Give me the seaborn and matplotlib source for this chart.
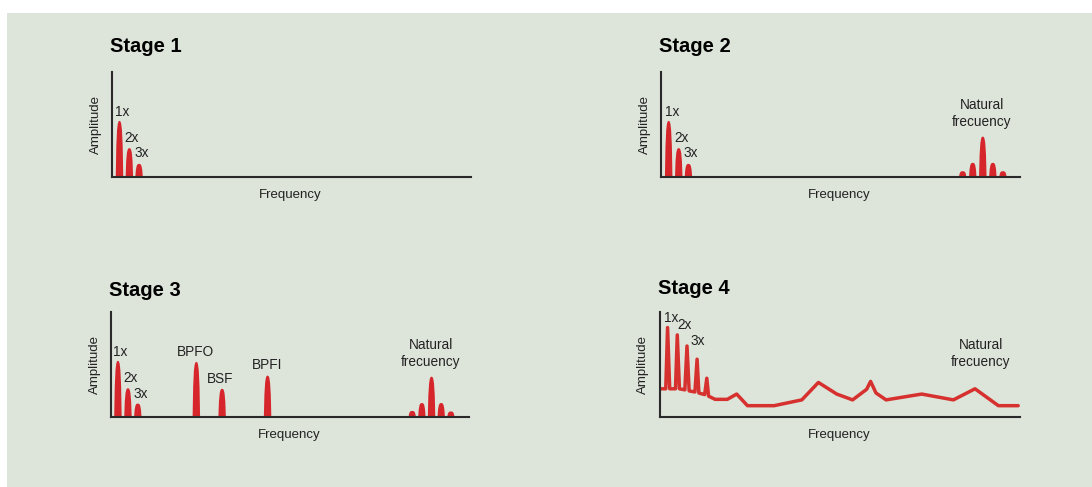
import numpy as np
import pandas as pd
import matplotlib.pyplot as plt
from matplotlib.patches import Rectangle
import seaborn as sns

# Posiciones (frecuencia, 0-100) y alturas (amplitud, 0-1) de los picos
s1_freq = [1.95, 4.7, 7.4]
s1_amp = [0.54, 0.28, 0.13]

s2_freq = [2.0, 4.8, 7.5, 83.9, 86.7, 89.5, 92.3, 95.1]
s2_amp = [0.54, 0.28, 0.13, 0.06, 0.14, 0.39, 0.14, 0.06]

s3_freq = [1.8, 4.6, 7.35, 23.7, 30.9, 43.6, 84.0, 86.7, 89.4, 92.1, 94.8]
s3_amp = [0.54, 0.28, 0.135, 0.53, 0.275, 0.40, 0.065, 0.14, 0.39, 0.14, 0.06]

# Stage 4: espectro continuo
s4_freq = [0.2, 1.6, 2.1, 2.7, 4.3, 4.8, 5.4, 6.9, 7.5, 8.1, 9.7, 10.3, 10.8,
           12.4, 13.0, 13.5, 15.3, 18.7, 21.3, 24.3, 31.7, 39.4, 44.0, 49.1,
           53.5, 57.4, 58.5, 60.0, 62.8, 72.7, 81.5, 87.5, 94.0, 99.5]
s4_amp = [0.27, 0.27, 0.85, 0.27, 0.27, 0.78, 0.27, 0.26, 0.675, 0.25, 0.24,
          0.55, 0.23, 0.215, 0.37, 0.20, 0.17, 0.17, 0.22, 0.11, 0.11, 0.165,
          0.33, 0.22, 0.165, 0.265, 0.34, 0.23, 0.165, 0.22, 0.165, 0.27,
          0.11, 0.11]

# Etiquetas: (texto, x, y) en coordenadas de datos
s1_labels = [("1x", 2.7, 0.62), ("2x", 5.5, 0.37), ("3x", 8.3, 0.23)]
s2_labels = [("1x", 3.0, 0.62), ("2x", 5.8, 0.37), ("3x", 8.4, 0.23),
             ("Natural", 89.3, 0.686), ("frecuency", 89.3, 0.524)]
s3_labels = [("1x", 2.7, 0.62), ("2x", 5.5, 0.37), ("3x", 8.3, 0.22),
             ("BPFO", 23.5, 0.62), ("BSF", 30.6, 0.36), ("BPFI", 43.7, 0.495),
             ("Natural", 89.3, 0.685), ("frecuency", 89.3, 0.52)]
s4_labels = [("1x", 3.0, 0.943), ("2x", 6.9, 0.875), ("3x", 10.4, 0.72),
             ("Natural", 89.1, 0.686), ("frecuency", 89.1, 0.52)]

sns.set_style("white")
plt.rcParams['font.family'] = ['Liberation Sans', 'DejaVu Sans']

rojo = '#d6252b'
texto = '#222222'
fondo = '#dde4da'

W, H = 1092, 487
fig = plt.figure(figsize=(W / 100, H / 100), dpi=100, facecolor='white')
fig.patches.append(Rectangle((7 / W, 0), 1, (H - 13) / H, transform=fig.transFigure,
                             facecolor=fondo, edgecolor='none', zorder=-10))


def make_ax(x0, x1, ytop, ybot):
    return fig.add_axes([x0 / W, 1 - ybot / H, (x1 - x0) / W, (ybot - ytop) / H])


def picos(ax, freqs, amps, hw=1.05):
    # perfil de cada pico: lados casi verticales y punta redondeada
    off = np.array([-1, -0.85, -0.65, -0.45, -0.25, 0, 0.25, 0.45, 0.65, 0.85, 1])
    fac = np.array([0, 0.55, 0.84, 0.95, 0.99, 1, 0.99, 0.95, 0.84, 0.55, 0])
    for f, a in zip(freqs, amps):
        ax.fill_between(f + off * hw, 0, a * fac, color=rojo, lw=0)


def estilo(ax, titulo, ty):
    ax.set_xlim(0, 100)
    ax.set_ylim(0, 1)
    ax.set_facecolor('none')
    sns.despine(ax=ax)
    for s in ['left', 'bottom']:
        ax.spines[s].set_color('#2a2a2a')
        ax.spines[s].set_linewidth(1.5)
    ax.set_xticks([])
    ax.set_yticks([])
    ax.text(-0.006, ty, titulo, transform=ax.transAxes, fontsize=14.5,
            fontweight='bold', color='black', ha='left', va='center')
    ax.text(0.497, -0.17, 'Frequency', transform=ax.transAxes, fontsize=9.5,
            color=texto, ha='center', va='center')
    ax.text(-0.046, 0.5, 'Amplitude', transform=ax.transAxes, fontsize=9.5,
            color=texto, ha='center', va='center', rotation=90)


def etiquetas(ax, labels):
    for t, x, y in labels:
        ax.text(x, y, t, fontsize=9.8, color=texto, ha='center', va='center')


ax1 = make_ax(112, 471, 72, 177)
picos(ax1, s1_freq, s1_amp)
estilo(ax1, 'Stage 1', 1.24)
etiquetas(ax1, s1_labels)

ax2 = make_ax(661, 1020, 72, 177)
picos(ax2, s2_freq, s2_amp)
estilo(ax2, 'Stage 2', 1.24)
etiquetas(ax2, s2_labels)

ax3 = make_ax(111, 469, 311.7, 417.3)
picos(ax3, s3_freq, s3_amp)
estilo(ax3, 'Stage 3', 1.20)
etiquetas(ax3, s3_labels)

ax4 = make_ax(660, 1020, 311.7, 417.3)
df4 = pd.DataFrame({'freq': s4_freq, 'amp': s4_amp})
sns.lineplot(data=df4, x='freq', y='amp', ax=ax4, color='#d6302f', lw=2.5,
             estimator=None, sort=False, solid_joinstyle='round')
ax4.set_xlabel('')
ax4.set_ylabel('')
estilo(ax4, 'Stage 4', 1.22)
etiquetas(ax4, s4_labels)

fig.savefig('out.png', dpi=100, facecolor='white')
